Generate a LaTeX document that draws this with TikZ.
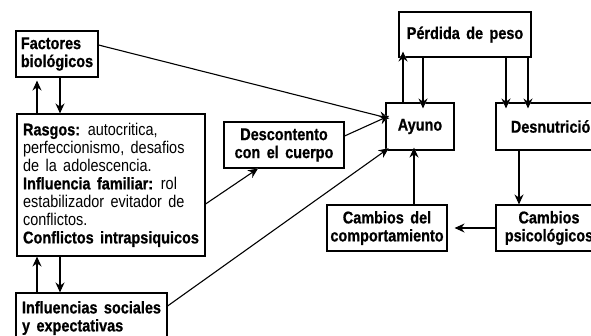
\documentclass[tikz,border=0pt]{standalone}
\usepackage{fontspec}
\setmainfont{Liberation Sans}[FakeStretch=0.85, WordSpace=1.6, BoldFeatures={FakeBold=0.8}]
\usetikzlibrary{arrows.meta,calc}
\newcommand\conn[3][0pt]{%
  \draw[halo, shorten >=#1] ($(#3)!9pt!(#2)$) -- (#3);
  \draw[arr, shorten >=#1] (#2) -- (#3);}
\begin{document}
\begin{tikzpicture}[x=1pt,y=-1pt,
  box/.style={draw, line width=1.1pt, inner sep=0pt, font=\fontsize{17}{18}\selectfont\bfseries, align=center},
  arr/.style={line width=1.1pt, -{Stealth[length=10pt,width=9pt]}},
  halo/.style={draw=white, line width=3.5pt, -{Stealth[length=10pt,width=9pt]}}]
\useasboundingbox (0,0) rectangle (591,335);
\begin{scope}
\clip (0,0) rectangle (591,335);
\node[box, minimum width=82pt, minimum height=46pt, align=left] (fac) at (57,54) {Factores\\biológicos};
\node[box, minimum width=188pt, minimum height=142pt, align=left, font=\fontsize{17}{18}\selectfont] (ras) at (111,185)
 {\textbf{Rasgos:} autocritica,\\ perfeccionismo, desafios\\ de la adolescencia.\\ \textbf{Influencia familiar:} rol\\ estabilizador evitador de\\ conflictos.\\ \textbf{Conflictos intrapsiquicos}};
\node[box, minimum width=151pt, minimum height=50pt, align=left] (inf) at (91.5,318) {Influencias sociales\\y expectativas};
\node[box, minimum width=120pt, minimum height=46pt] (des) at (284,145) {Descontento\\con el cuerpo};
\node[box, minimum width=68pt, minimum height=47pt] (ayu) at (420,126.5) {Ayuno};
\node[box, minimum width=132pt, minimum height=45pt] (per) at (465,34.5) {Pérdida de peso};
\node[box, minimum width=118pt, minimum height=47pt] (dsn) at (555,126.5) {Desnutrición};
\node[box, minimum width=106pt, minimum height=46pt] (psi) at (549,228) {Cambios\\psicológicos};
\node[box, minimum width=120pt, minimum height=46pt] (cmp) at (387,228) {Cambios del\\comportamiento};

\coordinate (c37) at (37,0);
\coordinate (c60) at (60,0);
\coordinate (c258) at (258,0);
\coordinate (c403) at (403,0);
\coordinate (c423) at (423,0);
\coordinate (c414) at (414,0);
\coordinate (c506) at (506,0);
\coordinate (c528) at (528,0);
\coordinate (c519) at (519,0);

\conn{fac.south -| c60}{ras.north -| c60}
\conn[3pt]{ras.north -| c37}{fac.south -| c37}
\conn{ras.south -| c60}{inf.north -| c60}
\conn{inf.north -| c37}{ras.south -| c37}
\conn[-4pt]{$(fac.east)+(0,-9)$}{$(ayu.west)+(0,-9)$}
\conn[-4pt]{$(des.east)+(0,-9)$}{$(ayu.west)+(0,-9)$}
\conn[-4pt]{$(inf.east)+(0,-12)$}{ayu.south west}
\conn{$(ras.east)+(0,19)$}{des.south -| c258}
\conn[-6pt]{ayu.north -| c403}{per.south -| c403}
\conn[-6pt]{per.south -| c423}{ayu.north -| c423}
\conn[-6pt]{per.south -| c506}{dsn.north -| c506}
\conn[-6pt]{per.south -| c528}{dsn.north -| c528}
\conn{dsn.south -| c519}{psi.north -| c519}
\conn[7pt]{psi.west}{psi.west -| cmp.east}
\conn[-3pt]{cmp.north -| c414}{ayu.south -| c414}
\end{scope}
\end{tikzpicture}
\end{document}
